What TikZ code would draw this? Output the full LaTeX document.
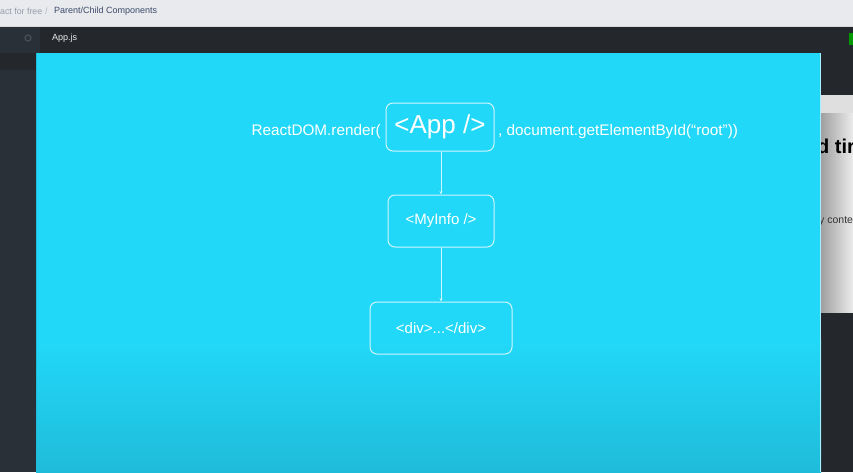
\documentclass[tikz,border=0pt]{standalone}
\usepackage{fontspec}
\setmainfont{Liberation Sans}
\usetikzlibrary{arrows.meta}
\definecolor{slide}{RGB}{34,216,248}
\definecolor{slidebot}{RGB}{31,188,218}
\definecolor{topbar}{RGB}{232,234,238}
\definecolor{darkbar}{RGB}{36,40,45}
\definecolor{darkside}{RGB}{42,48,56}
\definecolor{boxline}{RGB}{205,246,255}
\definecolor{crumbdark}{RGB}{60,74,104}
\definecolor{crumblight}{RGB}{150,156,168}
\definecolor{gearcol}{RGB}{74,80,88}
\tikzset{
  cbox/.style={draw=boxline, line width=1pt, rounded corners=7pt, text=white, font=\fontsize{15}{18}\selectfont, inner sep=0pt},
  link/.style={draw=boxline, line width=0.8pt, -{Stealth[length=3.5pt,width=3pt]}},
  slidetext/.style={text=white, font=\fontsize{15.3}{18}\selectfont, inner sep=0pt}
}
\begin{document}
\begin{tikzpicture}[x=1pt,y=-1pt]
\useasboundingbox (0,0) rectangle (853,472);
% browser chrome
\fill[topbar] (0,0) rectangle (853,27);
\draw[white!70!gray, line width=0.6pt] (0,26.5) -- (853,26.5);
\fill[darkbar] (0,27) rectangle (853,53);
\fill[darkside] (0,27) rectangle (40,53);
\fill[darkside] (0,53) rectangle (36,472);
\fill[darkbar] (0,53) rectangle (36,70);
\fill[darkbar] (821,53) rectangle (853,472);
\node[anchor=west, inner sep=0pt, text=crumblight, font=\fontsize{8.8}{11}\selectfont] (crumb1) at (0,11.5) {act for free};
\node[anchor=west, inner sep=0pt, text=crumblight!70!white, font=\fontsize{9}{11}\selectfont] (crumbsep) at (45,11.5) {/};
\node[anchor=west, inner sep=0pt, text=crumbdark, font=\fontsize{9}{11}\selectfont] (crumb2) at (54,11.5) {Parent/Child Components};
\node[draw=gearcol, circle, inner sep=0pt, minimum size=6pt, line width=1.2pt] (gear) at (28,38) {};
\node[anchor=west, inner sep=0pt, text=white!85!gray, font=\fontsize{9}{11}\selectfont] (tab) at (52,38.5) {App.js};
\fill[green!60!black] (849,33) rectangle (853,45);
% right page
\shade[left color=gray!75, right color=gray!15] (821,95) rectangle (853,312);
\fill[gray!25] (821,95) rectangle (853,113);
\begin{scope}
\clip (821,95) rectangle (853,312);
\node[anchor=west, inner sep=0pt, text=black, font=\fontsize{20}{22}\selectfont\bfseries] (ptitle) at (817,146) {d tir};
\node[anchor=west, inner sep=0pt, text=black!80, font=\fontsize{10.5}{12}\selectfont] (ptext) at (819,221) {y conter};
\end{scope}
% slide
\fill[slide] (36,53) rectangle (821,340);
\shade[top color=slide, bottom color=slidebot] (36,340) rectangle (821,472);
\draw[slidebot, line width=0.8pt] (36.4,53) -- (36.4,472);
\draw[white!60!slide, line width=0.8pt] (820.6,53) -- (820.6,472);
% diagram
\node[cbox, minimum width=108pt, minimum height=48pt, font=\fontsize{26}{30}\selectfont] (app) at (440,127) {<App />};
\node[slidetext, anchor=east] (render) at (381,131.5) {ReactDOM.render(};
\node[slidetext, anchor=west] (getel) at (498,131.5) {, document.getElementById(“root”))};
\node[cbox, minimum width=106pt, minimum height=52pt] (myinfo) at (441,221) {<MyInfo />};
\node[cbox, minimum width=142pt, minimum height=52pt] (div) at (441,328) {<div>...</div>};
\draw[link] (app.south -| myinfo.north) -- (myinfo.north);
\draw[link] (myinfo.south) -- (div.north);
\end{tikzpicture}
\end{document}
